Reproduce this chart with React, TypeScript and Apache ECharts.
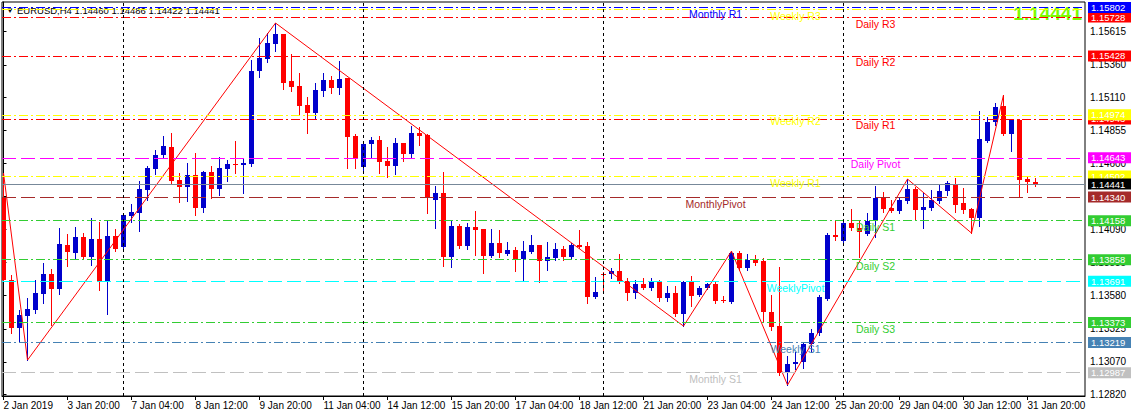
import React, { useEffect, useRef } from "react";
import * as echarts from "echarts";

// ---- OHLC data (EURUSD H4), bar 0 = 2 Jan 2019 12:00 ----
const opens = [
  1.14333, 1.13701, 1.13331, 1.13423, 1.13470, 1.13593, 1.13747, 1.13631, 1.13971, 1.13909,
  1.14032, 1.13878, 1.14017, 1.13693, 1.14040, 1.13955, 1.14194, 1.14217, 1.14395, 1.14556,
  1.14664, 1.14726, 1.14472, 1.14418, 1.14510, 1.14256, 1.14533, 1.14402, 1.14556, 1.14595,
  1.14587, 1.14595, 1.15312, 1.15404, 1.15520, 1.15597, 1.15235, 1.15196, 1.15050, 1.14988,
  1.15158, 1.15242, 1.15181, 1.15258, 1.14811, 1.14572, 1.14749, 1.14780, 1.14618, 1.14580,
  1.14757, 1.14672, 1.14834, 1.14819, 1.14317, 1.14371, 1.13878, 1.14117, 1.13963, 1.14109,
  1.14094, 1.13886, 1.13986, 1.13901, 1.13932, 1.13863, 1.13917, 1.13971, 1.13847, 1.13870,
  1.13940, 1.13878, 1.13971, 1.13963, 1.13570, 1.13747, 1.13747, 1.13770, 1.13693, 1.13601,
  1.13670, 1.13639, 1.13685, 1.13562, 1.13601, 1.13439, 1.13685, 1.13585, 1.13639, 1.13670,
  1.13547, 1.13531, 1.13909, 1.13793, 1.13855, 1.13847, 1.13454, 1.13346, 1.12984, 1.13053,
  1.13069, 1.13208, 1.13292, 1.13554, 1.14048, 1.14001, 1.14140, 1.14102, 1.14055, 1.14156,
  1.14333, 1.14256, 1.14233, 1.14310, 1.14402, 1.14240, 1.14256, 1.14310, 1.14387, 1.14441,
  1.14294, 1.14248, 1.14179, 1.14772, 1.14919, 1.15042, 1.14826, 1.14934, 1.14479, 1.14460,
];
const highs = [
  1.14526, 1.13739, 1.13470, 1.13562, 1.13701, 1.13832, 1.13786, 1.14102, 1.14055, 1.14109,
  1.14063, 1.14179, 1.14148, 1.14156, 1.14094, 1.14210, 1.14287, 1.14464, 1.14580, 1.14703,
  1.14811, 1.14834, 1.14526, 1.14603, 1.14680, 1.14541, 1.14580, 1.14649, 1.14626, 1.14772,
  1.14633, 1.15397, 1.15566, 1.15605, 1.15682, 1.15600, 1.15443, 1.15296, 1.15111, 1.15219,
  1.15296, 1.15273, 1.15389, 1.15260, 1.14826, 1.14765, 1.14803, 1.14811, 1.14726, 1.14795,
  1.14760, 1.14888, 1.14880, 1.14830, 1.14425, 1.14533, 1.14164, 1.14132, 1.14140, 1.14233,
  1.14095, 1.14094, 1.14086, 1.13994, 1.13955, 1.14002, 1.14048, 1.13972, 1.13994, 1.13986,
  1.13963, 1.13986, 1.14086, 1.13994, 1.13724, 1.13763, 1.13793, 1.13901, 1.13716, 1.13701,
  1.13716, 1.13716, 1.13701, 1.13655, 1.13655, 1.13690, 1.13732, 1.13655, 1.13678, 1.13693,
  1.13578, 1.13924, 1.13924, 1.13901, 1.13893, 1.13870, 1.13585, 1.13801, 1.13115, 1.13146,
  1.13223, 1.13323, 1.13585, 1.14063, 1.14156, 1.14171, 1.14248, 1.14156, 1.14217, 1.14425,
  1.14379, 1.14317, 1.14333, 1.14479, 1.14418, 1.14371, 1.14395, 1.14441, 1.14464, 1.14487,
  1.14410, 1.14256, 1.15004, 1.14957, 1.15065, 1.15127, 1.14942, 1.14942, 1.14495, 1.14486,
];
const lows = [
  1.13695, 1.13292, 1.13231, 1.13084, 1.13446, 1.13524, 1.13354, 1.13593, 1.13809, 1.13863,
  1.13863, 1.13816, 1.13624, 1.13439, 1.13924, 1.13932, 1.14148, 1.14079, 1.14317, 1.14518,
  1.14649, 1.14448, 1.14302, 1.14310, 1.14202, 1.14225, 1.14333, 1.14356, 1.14464, 1.14526,
  1.14371, 1.14580, 1.15265, 1.15381, 1.15466, 1.15173, 1.15158, 1.14973, 1.14834, 1.14949,
  1.15119, 1.15142, 1.15134, 1.14564, 1.14564, 1.14533, 1.14649, 1.14526, 1.14495, 1.14518,
  1.14618, 1.14641, 1.14742, 1.14217, 1.14102, 1.13809, 1.13801, 1.13947, 1.13940, 1.13893,
  1.13755, 1.13880, 1.13878, 1.13893, 1.13770, 1.13693, 1.13907, 1.13685, 1.13778, 1.13855,
  1.13855, 1.13870, 1.13947, 1.13524, 1.13562, 1.13601, 1.13716, 1.13678, 1.13547, 1.13562,
  1.13631, 1.13624, 1.13539, 1.13539, 1.13423, 1.13346, 1.13500, 1.13578, 1.13631, 1.13524,
  1.13531, 1.13524, 1.13778, 1.13778, 1.13816, 1.13377, 1.13315, 1.12969, 1.12892, 1.13015,
  1.13023, 1.13146, 1.13277, 1.13547, 1.14009, 1.13986, 1.14086, 1.13878, 1.14048, 1.14032,
  1.14225, 1.14225, 1.14217, 1.14294, 1.14163, 1.14102, 1.14240, 1.14294, 1.14356, 1.14225,
  1.14217, 1.14063, 1.14117, 1.14765, 1.14896, 1.14819, 1.14695, 1.14341, 1.14379, 1.14422,
];
const closes = [
  1.13701, 1.13331, 1.13431, 1.13477, 1.13601, 1.13747, 1.13631, 1.13975, 1.13917, 1.14032,
  1.13878, 1.14017, 1.13693, 1.14040, 1.13940, 1.14202, 1.14225, 1.14402, 1.14564, 1.14664,
  1.14734, 1.14464, 1.14418, 1.14510, 1.14256, 1.14533, 1.14402, 1.14564, 1.14595, 1.14587,
  1.14603, 1.15312, 1.15412, 1.15528, 1.15597, 1.15219, 1.15188, 1.15042, 1.14988, 1.15165,
  1.15242, 1.15181, 1.15250, 1.14803, 1.14641, 1.14749, 1.14780, 1.14610, 1.14580, 1.14757,
  1.14672, 1.14834, 1.14811, 1.14333, 1.14371, 1.13878, 1.14117, 1.13963, 1.14109, 1.14086,
  1.13886, 1.13986, 1.13909, 1.13932, 1.13863, 1.13924, 1.13971, 1.13847, 1.13878, 1.13940,
  1.13878, 1.13971, 1.13955, 1.13570, 1.13608, 1.13740, 1.13770, 1.13693, 1.13601, 1.13670,
  1.13639, 1.13685, 1.13562, 1.13601, 1.13439, 1.13685, 1.13578, 1.13639, 1.13670, 1.13539,
  1.13539, 1.13909, 1.13793, 1.13855, 1.13832, 1.13454, 1.13339, 1.12984, 1.13053, 1.13069,
  1.13208, 1.13292, 1.13570, 1.14048, 1.14032, 1.14140, 1.14102, 1.14071, 1.14156, 1.14333,
  1.14248, 1.14233, 1.14317, 1.14402, 1.14240, 1.14264, 1.14317, 1.14387, 1.14449, 1.14279,
  1.14240, 1.14179, 1.14788, 1.14919, 1.15035, 1.14826, 1.14934, 1.14472, 1.14456, 1.14441,
];

// ZigZag indicator vertices (bar index, price)
const zigzagBars = [0, 3, 34, 85, 91, 98, 113, 121, 125];
const zigzagPrices = [1.14526, 1.13084, 1.15682, 1.13346, 1.13924, 1.12892, 1.14479, 1.14063, 1.15127];

// Time axis labels (one every 8 bars)
const timeLabels = [
  "2 Jan 2019", "3 Jan 20:00", "7 Jan 04:00", "8 Jan 12:00", "9 Jan 20:00", "11 Jan 04:00",
  "14 Jan 12:00", "15 Jan 20:00", "17 Jan 04:00", "18 Jan 12:00", "21 Jan 20:00", "23 Jan 04:00",
  "24 Jan 12:00", "25 Jan 20:00", "29 Jan 04:00", "30 Jan 12:00", "31 Jan 20:00",
];
// Week separators (Monday 00:00 bars)
const weekStartBars = [15, 45, 75, 105];

// Price scale ticks
const priceTicks = [1.15615, 1.1536, 1.1511, 1.14855, 1.146, 1.14345, 1.1409, 1.13835, 1.1358, 1.13325, 1.1307, 1.1282];

// Pivot levels
const levelNames = [
  "Weekly R3", "Daily R3", "Monthly R1", "Daily R2", "Daily R1", "Weekly R2", "Daily Pivot", "Weekly R1",
  "MonthlyPivot", "Daily S1", "Daily S2", "WeeklyPivot", "Daily S3", "Weekly S1", "Monthly S1",
];
const levelValues = [
  1.15788, 1.15728, 1.15802, 1.15428, 1.14943, 1.14974, 1.14643, 1.14502,
  1.1434, 1.14158, 1.13858, 1.13691, 1.13373, 1.13219, 1.12987,
];
const levelColors = [
  "#ffff00", "#ff0000", "#0000ff", "#ff0000", "#ff0000", "#ffff00", "#ff00ff", "#ffff00",
  "#a52a2a", "#32cd32", "#32cd32", "#00ffff", "#32cd32", "#4682b4", "#c0c0c0",
];
const levelPeriods = ["W", "D", "M", "D", "D", "W", "D", "W", "M", "D", "D", "W", "D", "W", "M"];
const levelIsPivotStyle = [false, false, false, false, false, false, true, false, true, false, false, true, false, false, true];

const lastPrice = 1.14441;
const header = "EURUSD,H4 1.14460 1.14486 1.14422 1.14441";

const BULL = "#0000cc";
const BEAR = "#ff0000";
const FONT = "Arial, 'Liberation Sans', sans-serif";

const X_MIN = -0.1875;
const X_MAX = X_MIN + 1083 / 8;
const Y_MIN = 1.12807;
const Y_MAX = 1.15844;

const labelAnchor: Record<string, number> = { M: 89, W: 99, D: 109 };

export default function App() {
  const ref = useRef<HTMLDivElement>(null);
  useEffect(() => {
    if (!ref.current) return;
    const chart = echarts.init(ref.current, undefined, { renderer: "svg" });

    const candleData = opens.map((o, i) => [i, o, closes[i], lows[i], highs[i]]);
    const zigzagData = zigzagBars.map((b, k) => [b, zigzagPrices[k]]);
    const tickIdx = timeLabels.map((_, k) => k * 8);

    const dashDot = [9, 3, 2, 3];
    const longDash = [14, 5];

    const boxLabel = (text: string, bg: string) => ({
      show: true,
      position: "end",
      distance: 3,
      formatter: text,
      backgroundColor: bg,
      color: "#ffffff",
      fontSize: 9.5,
      fontFamily: FONT,
      lineHeight: 10,
      padding: [1, 8, 0, 3],
    });

    const levelLines: any[] = levelValues.map((v, k) => ({
      yAxis: v,
      lineStyle: { color: levelColors[k], width: 1, type: levelIsPivotStyle[k] ? longDash : dashDot },
      label: levelNames[k] === "Weekly R3" ? { show: false } : boxLabel(v.toFixed(5), levelColors[k]),
    }));
    levelLines.push({
      yAxis: lastPrice,
      lineStyle: { color: "#778899", width: 1, type: "solid" },
      label: boxLabel(lastPrice.toFixed(5), "#000000"),
    });
    const weekLines = weekStartBars.map((b) => ({
      xAxis: b,
      lineStyle: { color: "#000000", width: 1, type: [3, 3] },
      label: { show: false },
    }));

    const levelTexts = levelValues.map((v, k) => ({
      coord: [labelAnchor[levelPeriods[k]], v],
      value: levelNames[k],
      label: {
        show: true,
        position: "bottom",
        distance: 1,
        formatter: levelNames[k],
        color: levelColors[k],
        fontSize: 10.5,
        fontFamily: FONT,
      },
    }));

    chart.setOption({
      animation: false,
      backgroundColor: "#ffffff",
      grid: { left: 2, top: 2, right: 46, bottom: 22, show: true, borderColor: "#000000", borderWidth: 1, backgroundColor: "transparent" },
      xAxis: {
        type: "value",
        min: X_MIN,
        max: X_MAX,
        splitLine: { show: false },
        axisLine: { show: true, onZero: false, lineStyle: { color: "#000000" } },
        axisTick: { show: true, customValues: tickIdx, length: 4, lineStyle: { color: "#000000" } },
        axisLabel: {
          customValues: tickIdx,
          formatter: (v: number) => timeLabels[Math.round(v / 8)] ?? "",
          align: "left",
          color: "#000000",
          fontSize: 10,
          fontFamily: FONT,
          margin: 4,
          hideOverlap: false,
        },
      },
      yAxis: {
        type: "value",
        position: "right",
        min: Y_MIN,
        max: Y_MAX,
        scale: true,
        splitLine: { show: false },
        axisLine: { show: true, lineStyle: { color: "#000000" } },
        axisTick: { show: true, customValues: priceTicks, length: 3, lineStyle: { color: "#000000" } },
        axisLabel: {
          customValues: priceTicks,
          formatter: (v: number) => v.toFixed(5),
          color: "#000000",
          fontSize: 10,
          fontFamily: FONT,
          margin: 5,
        },
      },
      graphic: [
        { type: "text", left: 6, top: 6, style: { text: "▼", fill: "#000", font: `8px ${FONT}` } },
        { type: "text", left: 17, top: 5, style: { text: header, fill: "#000", font: `9.5px ${FONT}` } },
        { type: "text", right: 49, top: 4, style: { text: lastPrice.toFixed(5), fill: "#7cfc00", font: `bold 19px ${FONT}` } },
      ],
      series: [
        {
          type: "line",
          name: "levels",
          data: [[X_MIN, lastPrice]],
          showSymbol: false,
          lineStyle: { opacity: 0 },
          z: 1,
          silent: true,
          markLine: { symbol: "none", silent: true, precision: 5, data: [...levelLines, ...weekLines] },
        },
        {
          type: "custom",
          name: "EURUSD",
          z: 3,
          clip: true,
          data: candleData,
          encode: { x: 0, y: [1, 2, 3, 4] },
          renderItem: (_params: any, api: any) => {
            const i = api.value(0);
            const o = api.value(1), c = api.value(2), l = api.value(3), h = api.value(4);
            const pO = api.coord([i, o]);
            const pC = api.coord([i, c]);
            const pL = api.coord([i, l]);
            const pH = api.coord([i, h]);
            const x = Math.round(pO[0] - 0.5) + 0.5;
            const color = c > o ? BULL : BEAR;
            const yTop = Math.round(Math.min(pO[1], pC[1]));
            const yBot = Math.round(Math.max(pO[1], pC[1]));
            return {
              type: "group",
              children: [
                { type: "line", shape: { x1: x, y1: Math.round(pH[1]), x2: x, y2: Math.round(pL[1]) + 1 }, style: { stroke: color, lineWidth: 1 } },
                { type: "rect", shape: { x: x - 2.5, y: yTop, width: 5, height: Math.max(1, yBot - yTop) }, style: { fill: color } },
              ],
            };
          },
        },
        {
          type: "line",
          name: "ZigZag",
          data: zigzagData,
          showSymbol: false,
          z: 4,
          lineStyle: { color: "#ff0000", width: 1 },
          silent: true,
        },
        {
          type: "scatter",
          name: "pivotLabels",
          data: [],
          z: 5,
          silent: true,
          markPoint: { symbol: "circle", symbolSize: 0, silent: true, precision: 5, data: levelTexts },
        },
      ],
    });
    return () => chart.dispose();
  }, []);
  return <div ref={ref} style={{ position: "fixed", left: 0, top: 0, width: 1131, height: 418 }} />;
}
